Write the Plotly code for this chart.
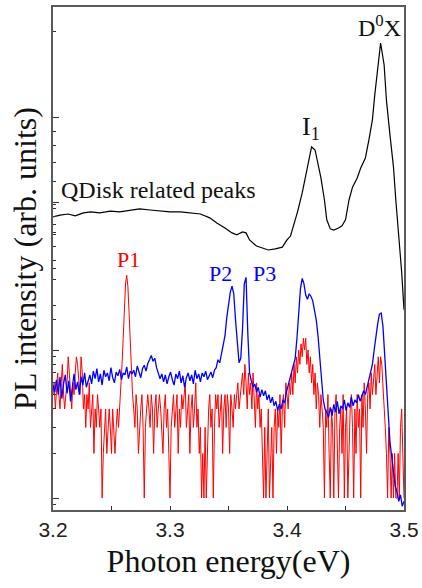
import numpy as np
import plotly.graph_objects as go

# ---------------- data ----------------
# Black spectrum (upper curve, own log axis, arb. units)
black_energy = [3.200, 3.206, 3.213, 3.219, 3.226, 3.232, 3.240, 3.249, 3.257, 3.266,
                3.274, 3.283, 3.291, 3.300, 3.309, 3.317, 3.326, 3.334, 3.340, 3.347,
                3.353, 3.357, 3.362, 3.365, 3.368, 3.374, 3.379, 3.384, 3.390, 3.396,
                3.400, 3.403, 3.405, 3.409, 3.413, 3.416, 3.419, 3.421, 3.424, 3.426,
                3.429, 3.432, 3.434, 3.437, 3.440, 3.444, 3.447, 3.450, 3.453, 3.456,
                3.460, 3.463, 3.467, 3.470, 3.473, 3.475, 3.478, 3.480, 3.483, 3.485,
                3.488, 3.491, 3.493, 3.496, 3.498, 3.500]
black_intensity = [4.53, 4.60, 4.64, 4.57, 4.68, 4.72, 4.68, 4.75, 4.72, 4.79,
                   4.83, 4.79, 4.75, 4.72, 4.72, 4.68, 4.64, 4.50, 4.32, 4.15,
                   3.99, 3.93, 4.02, 3.99, 3.77, 3.59, 3.54, 3.48, 3.51, 3.56,
                   3.77, 3.89, 4.15, 4.72, 5.49, 6.34, 7.26, 7.93, 7.74, 7.03,
                   6.19, 5.19, 4.43, 4.12, 4.08, 4.15, 4.22, 4.43, 5.19, 5.75,
                   6.19, 6.70, 7.26, 8.39, 9.84, 12.0, 15.6, 18.2, 15.3, 11.5,
                   8.73, 6.76, 5.19, 3.77, 2.92, 2.16]

# Red spectrum (counts), sampled every 1 meV from 3.200 to 3.500 eV
red_energy = np.linspace(3.2, 3.5, 301)
red_counts = [5, 6, 4, 5, 7, 5, 4, 6, 8, 5, 4, 5, 6, 9, 7, 5, 4, 6, 5, 7,
              9, 8, 6, 5, 9, 7, 4, 5, 3, 5, 4, 6, 3, 4, 5, 2, 4, 3, 5, 4,
              3, 4, 1, 2, 3, 4, 2, 3, 4, 3, 2, 4, 3, 2, 3, 4, 3, 4,
              5, 8, 12, 20, 28, 32, 27, 18, 11, 7, 5,
              4, 3, 5, 4, 2, 3, 4, 5, 3, 1, 3, 4, 5, 4, 3, 5, 4, 2, 4, 5,
              3, 4, 5, 4, 3, 2, 4, 5, 3, 4, 2, 1, 3, 4, 5, 3, 4, 5, 2, 4, 3, 5,
              4, 5, 6, 3, 4, 5, 2, 4, 5, 3, 4, 6, 3, 4, 2, 3, 1, 2, 1, 3,
              1, 2, 4, 5, 3, 4, 1, 3, 5, 4, 5, 3, 4, 5, 2, 4, 5, 3, 5, 4,
              2, 5, 4, 3, 5, 4, 5, 6, 4, 5,
              6, 7, 5, 8, 6, 4, 7, 5, 6, 4, 7, 5, 3, 6, 4, 5, 3, 4, 2, 1,
              3, 1, 2, 4, 1, 2, 3, 1, 3, 4, 2, 4, 3, 5, 2, 4, 5, 3, 6, 5,
              4, 6, 5, 7, 5, 8, 6, 9, 7, 10, 8, 11, 9, 12, 10, 12, 8, 10, 7, 9,
              6, 8, 5, 7, 4, 6, 5, 3, 5, 4,
              3, 1, 4, 3, 5, 2, 1, 4, 3, 1, 4, 5, 2, 1, 3, 4, 2, 5, 1, 3,
              4, 1, 2, 4, 5, 3, 1, 4, 2, 5, 3, 4, 1, 5, 3, 6, 4, 2, 5, 6,
              4, 7, 5, 6, 8, 5, 7, 9, 6, 9, 8, 6, 4, 3, 2, 1, 3, 2, 1, 2,
              1, 2, 1, 1, 2, 1, 3, 4, 2, 1]

# Blue spectrum (counts), sampled every 1.5 meV from 3.200 to 3.500 eV
blue_energy = np.linspace(3.2, 3.5, 201)
blue_counts = [5.8, 5.2, 6.3, 5.0, 6.6, 4.7, 5.9, 6.8, 5.1, 6.2, 4.5, 5.7, 6.9, 5.4, 6.1, 5.0, 6.6, 5.8, 7.0, 5.6, 6.3,
               6.8, 5.9, 7.2, 6.4, 7.5, 6.1, 6.9, 5.8, 7.3, 6.6, 7.0, 6.2, 7.6, 6.5, 6.0, 7.1, 6.7, 7.4, 6.3, 7.0,
               6.8, 7.7, 6.4, 7.2, 6.9,
               7.3, 6.6, 7.8, 7.0, 6.5, 7.5, 7.9, 7.2, 8.1, 8.6, 9.2, 8.4, 8.8, 7.6, 7.0, 6.4, 6.9,
               6.1, 6.8, 5.9, 6.6, 7.1, 6.3, 5.8, 6.9, 6.4, 7.2, 6.0, 6.7, 5.6, 6.5, 7.0, 6.2, 6.8, 5.9,
               7.3, 6.4, 6.9, 6.1, 7.0, 6.6, 7.2, 6.3, 6.8, 7.1, 6.5, 7.3,
               7.6, 8.6, 8.2, 9.3, 10.5, 12.5, 16.5, 20.0, 24.5, 27.0, 24.0, 16.0, 10.5, 8.2, 8.8, 14.0,
               28.0, 31.0, 13.0, 7.0, 6.2, 5.6,
               5.9, 5.2, 5.6, 4.8, 5.4, 4.9, 5.3, 4.6, 5.0, 4.4, 4.8, 4.2, 4.5, 3.9, 4.3, 4.0, 4.6, 4.4,
               5.2, 5.8, 6.5,
               7.0, 7.8, 8.8, 12.0, 18.0, 26.0, 30.5, 28.0, 23.5, 22.0, 24.0, 23.0, 21.5, 18.5, 16.0,
               12.5, 9.0, 6.0, 4.6, 4.0, 3.8,
               3.5, 4.1, 3.6, 4.3, 3.8, 4.5, 3.7, 4.2, 4.0, 4.6, 3.9, 4.4, 4.1, 4.8, 4.2, 4.6, 4.4, 5.0,
               4.5, 4.9, 5.3, 5.0,
               5.6, 6.2, 6.8, 8.0, 10.0, 12.5, 15.0, 17.5, 17.8, 14.5, 9.5, 6.0, 3.6, 2.4, 1.9, 1.5,
               1.2, 1.1, 0.95, 1.05, 0.88, 0.95]

x_tick_vals = [3.2, 3.3, 3.4, 3.5]
x_tick_text = ["3.2", "3.3", "3.4", "3.5"]

# ---------------- layout geometry ----------------
W, H = 422, 588
ML, MR, MT, MB = 53, 18, 7, 78
PW, PH = W - ML - MR, H - MT - MB


def px(xp):
    return (xp - ML) / PW


def py(yp):
    return (MT + PH - yp) / PH


SERIF = "Liberation Serif, Times New Roman, serif"
SANS = "Liberation Sans, Arial, sans-serif"
AXC = "#5a5a5a"

fig = go.Figure()
fig.add_trace(go.Scatter(x=red_energy, y=red_counts, mode="lines", yaxis="y2",
                         line=dict(color="#ff0000", width=1), showlegend=False,
                         hoverinfo="skip"))
fig.add_trace(go.Scatter(x=blue_energy, y=blue_counts, mode="lines", yaxis="y2",
                         line=dict(color="#0000ff", width=1.3), showlegend=False,
                         hoverinfo="skip"))
fig.add_trace(go.Scatter(x=black_energy, y=black_intensity, mode="lines", yaxis="y",
                         line=dict(color="#000000", width=1.2), showlegend=False,
                         hoverinfo="skip"))

fig.update_layout(
    width=W, height=H,
    margin=dict(l=ML, r=MR, t=MT, b=MB, pad=0),
    paper_bgcolor="white", plot_bgcolor="white",
    showlegend=False,
    xaxis=dict(
        range=[3.2, 3.5], showgrid=False, zeroline=False,
        showline=True, linecolor=AXC, linewidth=1.5, mirror=True,
        ticks="inside", ticklen=4, tickwidth=1, tickcolor="#333",
        tickmode="array", tickvals=x_tick_vals, ticktext=x_tick_text,
        minor=dict(tickmode="array", tickvals=[3.25, 3.35, 3.45], ticks="inside",
                   ticklen=4, tickcolor="#333", showgrid=False),
        tickfont=dict(family=SANS, size=21, color="#222"),
        ticklabelstandoff=0,
        title=dict(text="Photon energy(eV)", font=dict(family=SERIF, size=32, color="#111"),
                   standoff=10),
        automargin=False,
    ),
    yaxis=dict(
        type="log", range=[-0.361, 1.385], showgrid=False, zeroline=False,
        showline=True, linecolor=AXC, linewidth=1.5, mirror=True,
        ticks="inside", ticklen=6, tickcolor="#333",
        tickmode="array", tickvals=[10], showticklabels=False,
        minor=dict(tickmode="array", tickvals=[2, 3, 4, 5, 6, 7, 8, 9, 20], ticks="inside",
                   ticklen=3, tickcolor="#333", showgrid=False),
        title=dict(text="PL intensity (arb. units)", font=dict(family=SERIF, size=32, color="#111"),
                   standoff=5),
        automargin=False,
    ),
    yaxis2=dict(
        type="log", range=[-0.081, 3.318], overlaying="y", side="left", anchor="x",
        showgrid=False, zeroline=False, showline=False,
        ticks="inside", ticklen=6, tickcolor="#333",
        tickmode="array", tickvals=[1, 10, 100], showticklabels=False,
        minor=dict(tickmode="array",
                   tickvals=[0.9, 2, 3, 4, 5, 6, 7, 8, 9, 20, 30, 40, 50, 60, 70, 80, 90],
                   ticks="inside", ticklen=3, tickcolor="#333", showgrid=False),
        automargin=False,
    ),
    annotations=[
        dict(text="QDisk related peaks", xref="paper", yref="paper", x=px(59), y=py(190),
             xanchor="left", yanchor="middle", showarrow=False,
             font=dict(family=SERIF, size=24, color="#111")),
        dict(text="I<sub>1</sub>", xref="paper", yref="paper", x=px(311), y=py(128),
             xanchor="center", yanchor="middle", showarrow=False,
             font=dict(family=SERIF, size=26, color="#111")),
        dict(text="D<sup>0</sup>X", xref="paper", yref="paper", x=px(379), y=py(26),
             xanchor="center", yanchor="middle", showarrow=False,
             font=dict(family=SERIF, size=24, color="#111")),
        dict(text="P1", xref="paper", yref="paper", x=px(128), y=py(259),
             xanchor="center", yanchor="middle", showarrow=False,
             font=dict(family=SERIF, size=22, color="#ff0000")),
        dict(text="P2", xref="paper", yref="paper", x=px(220), y=py(273),
             xanchor="center", yanchor="middle", showarrow=False,
             font=dict(family=SERIF, size=22, color="#0000ff")),
        dict(text="P3", xref="paper", yref="paper", x=px(264), y=py(273),
             xanchor="center", yanchor="middle", showarrow=False,
             font=dict(family=SERIF, size=22, color="#0000ff")),
    ],
)

fig.write_html("out.html",
               config={"displayModeBar": False},
               post_script="document.body.style.margin='0';document.body.style.padding='0';")
